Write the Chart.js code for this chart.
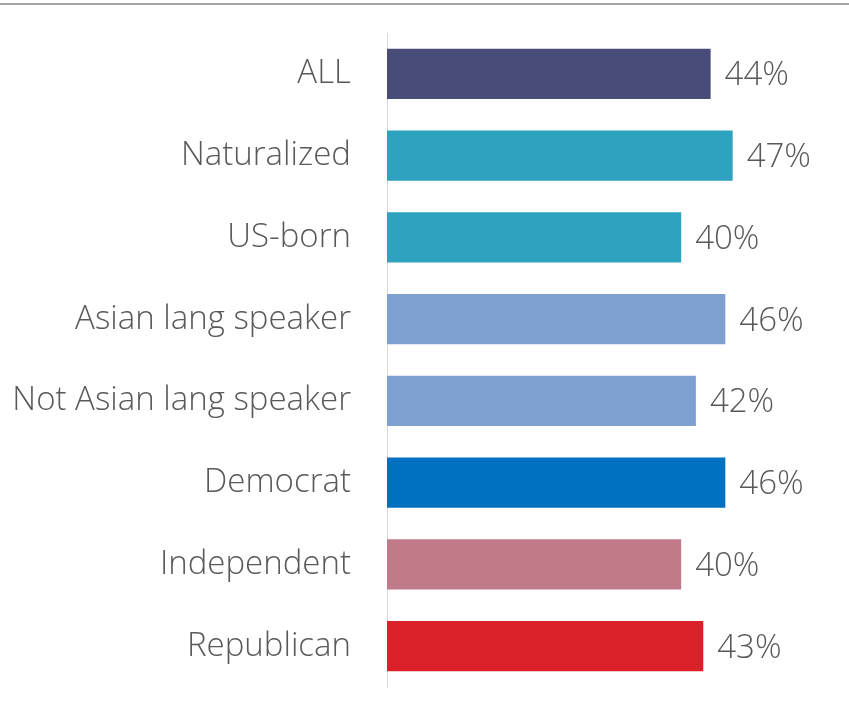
<!DOCTYPE html>
<html>
<head>
<meta charset="utf-8">
<script src="https://cdn.jsdelivr.net/npm/chart.js@4/dist/chart.umd.min.js"></script>
<style>
  html, body { margin: 0; padding: 0; background: #fff; }
  #wrap { position: relative; width: 849px; height: 711px; }
  #topline { position: absolute; left: 0; top: 3px; width: 849px; border-top: 2px solid #A6A6A6; }
</style>
</head>
<body>
<div id="wrap">
  <div id="topline"></div>
  <canvas id="chart" width="849" height="711"></canvas>
</div>
<script>
const categories = ['ALL', 'Naturalized', 'US-born', 'Asian lang speaker', 'Not Asian lang speaker', 'Democrat', 'Independent', 'Republican'];
const shares = [44, 47, 40, 46, 42, 46, 40, 43];
const barColors = ['#474C78', '#2EA3C0', '#2EA3C0', '#7FA1D1', '#7FA1D1', '#0070C0', '#C07A88', '#DA2029'];

const textColor = '#595959';
const fontFamily = "'Open Sans', sans-serif";

// draws the percent labels just past the end of each bar
const valueLabels = {
    id: 'valueLabels',
    afterDatasetsDraw(chart) {
        const ctx = chart.ctx;
        const meta = chart.getDatasetMeta(0);
        ctx.save();
        ctx.font = `300 33px ${fontFamily}`;
        ctx.fillStyle = textColor;
        ctx.textAlign = 'left';
        ctx.textBaseline = 'middle';
        meta.data.forEach((bar, i) => {
            ctx.fillText(shares[i] + '%', bar.x + 14, bar.y + 2);
        });
        ctx.restore();
    }
};

new Chart(document.getElementById('chart'), {
    type: 'bar',
    data: {
        labels: categories,
        datasets: [{
            data: shares,
            backgroundColor: barColors,
            barPercentage: 0.612,
            categoryPercentage: 1
        }]
    },
    options: {
        indexAxis: 'y',
        responsive: false,
        animation: false,
        layout: { padding: { top: 33, bottom: 24, left: 12, right: 6 } },
        scales: {
            x: {
                display: false,
                min: 0,
                max: 62
            },
            y: {
                grid: { display: false, drawTicks: false },
                border: { display: true, color: '#D9D9D9', width: 1 },
                ticks: {
                    padding: 36,
                    color: textColor,
                    font: { family: fontFamily, size: 33, weight: 300 }
                },
                afterFit(scale) {
                    scale.width = 375;
                    scale.paddingTop = 0;
                    scale.paddingBottom = 0;
                }
            }
        },
        plugins: {
            legend: { display: false },
            tooltip: { enabled: false }
        }
    },
    plugins: [valueLabels]
});
</script>
</body>
</html>
